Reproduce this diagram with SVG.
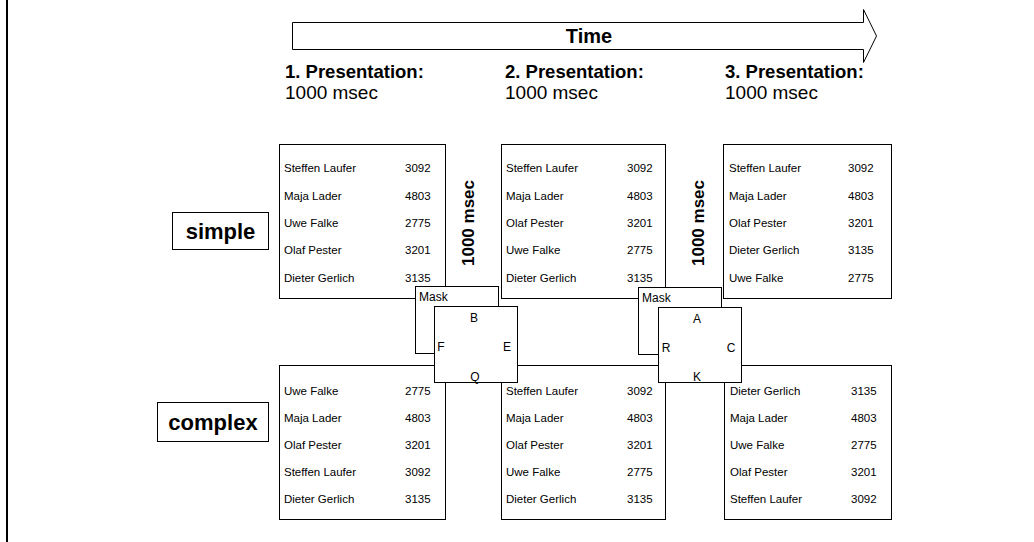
<svg xmlns="http://www.w3.org/2000/svg" width="1034" height="542" viewBox="0 0 1034 542">
<style>
text{font-family:"Liberation Sans",Arial,sans-serif;fill:#000}
.box{fill:#fff;stroke:#000;stroke-width:1}
.row{font-size:11.5px}
.hd{font-size:18.5px;font-weight:bold}
.ms{font-size:19px}
.lbl{font-size:22px;font-weight:bold}
.vt{font-size:17px;font-weight:bold}
.mk{font-size:12px}
</style>
<rect x="0" y="0" width="1034" height="542" fill="#fff"/>
<line x1="7" y1="0" x2="7" y2="542" stroke="#000" stroke-width="2"/>
<g id="time">
<polygon class="box" points="292.5,22.5 863.5,22.5 863.5,9.5 876.5,36 863.5,62.5 863.5,49.5 292.5,49.5"/>
<text x="589" y="43" text-anchor="middle" style="font-size:20px;font-weight:bold">Time</text>
</g>
<g id="pres1"><text class="hd" x="285" y="78">1. Presentation:</text><text class="ms" x="285" y="99">1000 msec</text></g>
<g id="pres2"><text class="hd" x="505" y="78">2. Presentation:</text><text class="ms" x="505" y="99">1000 msec</text></g>
<g id="pres3"><text class="hd" x="725" y="78">3. Presentation:</text><text class="ms" x="725" y="99">1000 msec</text></g>
<g id="simple"><rect class="box" x="172.5" y="212.5" width="96" height="37"/><text class="lbl" x="220.5" y="239" text-anchor="middle">simple</text></g>
<g id="complex"><rect class="box" x="157.5" y="402.5" width="111" height="39"/><text class="lbl" x="213" y="430" text-anchor="middle">complex</text></g>
<g id="gap1"><text class="vt" transform="translate(474,223) rotate(-90)" text-anchor="middle">1000 msec</text></g>
<g id="gap2"><text class="vt" transform="translate(704,223) rotate(-90)" text-anchor="middle">1000 msec</text></g>
<g id="s1" class="row"><rect class="box" x="279.5" y="144.5" width="166" height="154"/>
<text x="284" y="172">Steffen Laufer</text><text x="405" y="172">3092</text>
<text x="284" y="200">Maja Lader</text><text x="405" y="200">4803</text>
<text x="284" y="227">Uwe Falke</text><text x="405" y="227">2775</text>
<text x="284" y="254">Olaf Pester</text><text x="405" y="254">3201</text>
<text x="284" y="282">Dieter Gerlich</text><text x="405" y="282">3135</text></g>
<g id="s2" class="row"><rect class="box" x="501.5" y="144.5" width="164" height="154"/>
<text x="506" y="172">Steffen Laufer</text><text x="627" y="172">3092</text>
<text x="506" y="200">Maja Lader</text><text x="627" y="200">4803</text>
<text x="506" y="227">Olaf Pester</text><text x="627" y="227">3201</text>
<text x="506" y="254">Uwe Falke</text><text x="627" y="254">2775</text>
<text x="506" y="282">Dieter Gerlich</text><text x="627" y="282">3135</text></g>
<g id="s3" class="row"><rect class="box" x="723.5" y="144.5" width="168" height="154"/>
<text x="729" y="172">Steffen Laufer</text><text x="848" y="172">3092</text>
<text x="729" y="200">Maja Lader</text><text x="848" y="200">4803</text>
<text x="729" y="227">Olaf Pester</text><text x="848" y="227">3201</text>
<text x="729" y="254">Dieter Gerlich</text><text x="848" y="254">3135</text>
<text x="729" y="282">Uwe Falke</text><text x="848" y="282">2775</text></g>
<g id="c1" class="row"><rect class="box" x="279.5" y="365.5" width="166" height="154"/>
<text x="284" y="395">Uwe Falke</text><text x="405" y="395">2775</text>
<text x="284" y="422">Maja Lader</text><text x="405" y="422">4803</text>
<text x="284" y="449">Olaf Pester</text><text x="405" y="449">3201</text>
<text x="284" y="476">Steffen Laufer</text><text x="405" y="476">3092</text>
<text x="284" y="503">Dieter Gerlich</text><text x="405" y="503">3135</text></g>
<g id="c2" class="row"><rect class="box" x="501.5" y="365.5" width="164" height="154"/>
<text x="506" y="395">Steffen Laufer</text><text x="627" y="395">3092</text>
<text x="506" y="422">Maja Lader</text><text x="627" y="422">4803</text>
<text x="506" y="449">Olaf Pester</text><text x="627" y="449">3201</text>
<text x="506" y="476">Uwe Falke</text><text x="627" y="476">2775</text>
<text x="506" y="503">Dieter Gerlich</text><text x="627" y="503">3135</text></g>
<g id="c3" class="row"><rect class="box" x="724.5" y="365.5" width="167" height="154"/>
<text x="730" y="395">Dieter Gerlich</text><text x="851" y="395">3135</text>
<text x="730" y="422">Maja Lader</text><text x="851" y="422">4803</text>
<text x="730" y="449">Uwe Falke</text><text x="851" y="449">2775</text>
<text x="730" y="476">Olaf Pester</text><text x="851" y="476">3201</text>
<text x="730" y="503">Steffen Laufer</text><text x="851" y="503">3092</text></g>
<g id="mask1"><rect class="box" x="415.5" y="286.5" width="83" height="67"/><text class="mk" x="419" y="301">Mask</text></g>
<g id="probe1" class="mk"><rect class="box" x="434.5" y="306.5" width="83" height="76"/>
<text x="474" y="322" text-anchor="middle">B</text><text x="441" y="351" text-anchor="middle">F</text><text x="507" y="351" text-anchor="middle">E</text><text x="475" y="381" text-anchor="middle">Q</text></g>
<g id="mask2"><rect class="box" x="638.5" y="287.5" width="83" height="67"/><text class="mk" x="642" y="302">Mask</text></g>
<g id="probe2" class="mk"><rect class="box" x="658.5" y="307.5" width="83" height="75"/>
<text x="697" y="323" text-anchor="middle">A</text><text x="666" y="352" text-anchor="middle">R</text><text x="731" y="352" text-anchor="middle">C</text><text x="697" y="381" text-anchor="middle">K</text></g>
<g id="connectors"></g>
</svg>
